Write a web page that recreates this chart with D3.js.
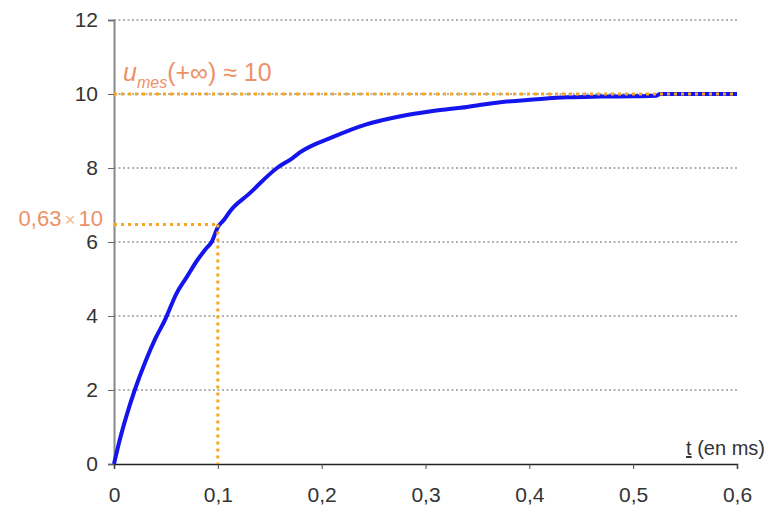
<!DOCTYPE html>
<html>
<head>
<meta charset="utf-8">
<script src="https://cdn.jsdelivr.net/npm/d3@7"></script>
<style>
  body { margin: 0; background: #fff; }
  text { font-family: "Liberation Sans", Arial, sans-serif; }
</style>
</head>
<body>
<svg class="step-chart" width="768" height="506"></svg>
<script>
const timeValues = [0, 0.006, 0.012, 0.02, 0.03, 0.04, 0.05, 0.053, 0.06, 0.07, 0.08, 0.088, 0.094, 0.1,
  0.106, 0.112, 0.13, 0.157, 0.172, 0.179, 0.211, 0.243, 0.276, 0.307, 0.34, 0.372, 0.404, 0.436,
  0.468, 0.5, 0.522, 0.526, 0.6];
const voltageValues = [0, 0.7, 1.3, 2.0, 2.75, 3.4, 3.95, 4.15, 4.6, 5.05, 5.5, 5.8, 6.0, 6.4,
  6.6, 6.84, 7.3, 8.0, 8.27, 8.42, 8.84, 9.18, 9.4, 9.54, 9.65, 9.78, 9.85, 9.91,
  9.93, 9.94, 9.95, 10.0, 10.0];

const yTicks = [0, 2, 4, 6, 8, 10, 12];
const xTicks = [0, 0.1, 0.2, 0.3, 0.4, 0.5, 0.6];
const finalValue = 10;
const tau = 0.1;
const tauValue = 6.47;

const svg = d3.select("svg.step-chart"),
  margin = { top: 20, right: 31, bottom: 42, left: 114 },
  width = +svg.attr("width") - margin.left - margin.right,
  height = +svg.attr("height") - margin.top - margin.bottom;

const ORANGE = "#f6a625";
const SALMON = "#ee9168";
const CURVE = "#1414ec";

const xScale = d3.scaleLinear().domain([0, 0.6]).range([0, width]);
const yScale = d3.scaleLinear().domain([0, 12]).range([height, 0]);
const fmt = (d) => String(d).replace(".", ",");

const chartG = svg.append("g")
  .attr("transform", `translate(${margin.left}, ${margin.top})`);

// GRID
chartG.append("g")
  .selectAll("line")
  .data(yTicks.filter((d) => d > 0))
  .enter()
  .append("line")
  .attr("x1", 0)
  .attr("x2", width)
  .attr("y1", (d) => yScale(d))
  .attr("y2", (d) => yScale(d))
  .attr("stroke", "#666")
  .attr("stroke-width", 1.2)
  .attr("stroke-dasharray", "2,2.5");

// AXES
const yAxis = d3.axisLeft(yScale).tickValues(yTicks).tickSize(6).tickFormat(fmt).tickPadding(10);
chartG.append("g")
  .call(yAxis)
  .call((g) => g.select(".domain").attr("stroke", "#888").attr("stroke-width", 2))
  .call((g) => g.selectAll(".tick line").attr("stroke", "#666"))
  .call((g) => g.selectAll(".tick text").attr("font-size", 21).attr("fill", "#333")
    .attr("font-family", "Liberation Sans, Arial, sans-serif"));

const xAxis = d3.axisBottom(xScale).tickValues(xTicks).tickSize(5).tickFormat(fmt).tickPadding(18);
chartG.append("g")
  .attr("transform", `translate(0, ${height})`)
  .call(xAxis)
  .call((g) => g.select(".domain").attr("stroke", "#222").attr("stroke-width", 1.5))
  .call((g) => g.selectAll(".tick line").attr("stroke", "#444"))
  .call((g) => g.selectAll(".tick text").attr("font-size", 21).attr("fill", "#333")
    .attr("font-family", "Liberation Sans, Arial, sans-serif"));

// axis title
const xt = chartG.append("text")
  .attr("x", width + 28)
  .attr("y", height - 9)
  .attr("text-anchor", "end")
  .attr("font-size", 20)
  .attr("fill", "#333");
xt.append("tspan").attr("text-decoration", "underline").text("t");
xt.append("tspan").text(" (en ms)");

// CURVE
const data = timeValues.map((t, i) => ({ t: t, u: voltageValues[i] }));
const line = d3.line()
  .curve(d3.curveMonotoneX)
  .x((d) => xScale(d.t))
  .y((d) => yScale(d.u));

chartG.append("path")
  .datum(data)
  .attr("d", line)
  .attr("fill", "none")
  .attr("stroke", CURVE)
  .attr("stroke-width", 4)
  .attr("stroke-linejoin", "round");

// ANNOTATIONS
const dotted = (sel) => sel
  .attr("stroke", ORANGE)
  .attr("stroke-width", 3)
  .attr("stroke-dasharray", "3,4")
  .attr("fill", "none");

chartG.append("line")
  .attr("x1", 0).attr("x2", width)
  .attr("y1", yScale(finalValue)).attr("y2", yScale(finalValue))
  .call(dotted);

chartG.append("line")
  .attr("x1", 0).attr("x2", xScale(tau))
  .attr("y1", yScale(tauValue)).attr("y2", yScale(tauValue))
  .call(dotted);

chartG.append("line")
  .attr("x1", xScale(tau)).attr("x2", xScale(tau))
  .attr("y1", yScale(tauValue)).attr("y2", height)
  .call(dotted);

const lbl = chartG.append("text")
  .attr("x", 9)
  .attr("y", yScale(finalValue) - 13)
  .attr("fill", SALMON)
  .attr("font-size", 25);
lbl.append("tspan").attr("font-style", "italic").text("u");
lbl.append("tspan").attr("font-style", "italic").attr("font-size", 16).attr("dy", 7).text("mes");
lbl.append("tspan").attr("dy", -7).text("(+∞) ≈ 10");

const tl = chartG.append("text")
  .attr("x", -11)
  .attr("y", yScale(tauValue) + 1)
  .attr("text-anchor", "end")
  .attr("fill", SALMON)
  .attr("font-size", 22);
tl.append("tspan").text("0,63");
tl.append("tspan").attr("fill", "#f4b89c").attr("font-size", 19).attr("dx", 3).text("×");
tl.append("tspan").attr("dx", 3).text("10");
</script>
</body>
</html>
